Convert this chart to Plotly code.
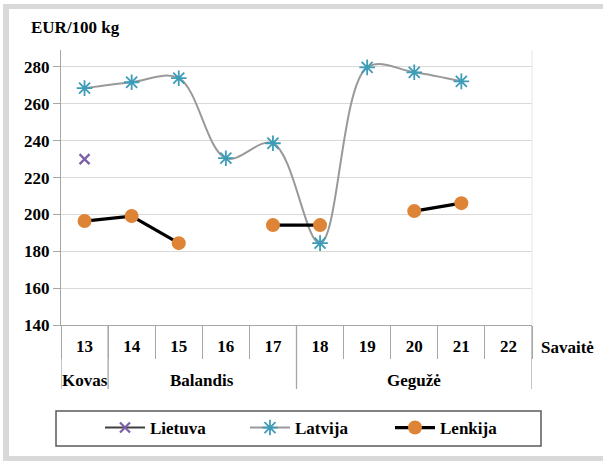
import plotly.graph_objects as go

weeks = ["13", "14", "15", "16", "17", "18", "19", "20", "21", "22"]
lietuva = [230, None, None, None, None, None, None, None, None, None]
latvija = [268.5, 271.7, 273.9, 230.5, 238.6, 184.4, 279.8, 277.1, 272.2, None]
lenkija = [196.4, 199.1, 184.4, None, 194.2, 194.2, None, 201.8, 206.1, None]
months = ["Kovas", "Balandis", "Gegužė"]
month_weeks = [1, 4, 5]
y_ticks = [140, 160, 180, 200, 220, 240, 260, 280]

FONT = "Liberation Serif, Times New Roman, serif"
W, H = 603, 461
L, R, T, B = 61, 71, 50, 136
PW, PH = W - L - R, H - T - B


def px_x(x):
    return (x - L) / PW


def px_y(y):
    return (H - B - y) / PH


def bold(s):
    return "<b>" + str(s) + "</b>"


fig = go.Figure()

fig.add_trace(go.Scatter(
    x=weeks, y=lietuva, name=bold("Lietuva"), mode="lines+markers",
    line=dict(color="#404040", width=2),
    marker=dict(symbol="x-thin-open", size=10, color="#7b5ea7",
                line=dict(color="#7b5ea7", width=2.2)),
))
fig.add_trace(go.Scatter(
    x=weeks, y=latvija, name=bold("Latvija"), mode="lines+markers",
    line=dict(color="#999999", width=2, shape="spline", smoothing=1),
    marker=dict(symbol="asterisk-open", size=13, color="#3d9cb8",
                line=dict(color="#3d9cb8", width=1.8)),
))
fig.add_trace(go.Scatter(
    x=weeks, y=lenkija, name=bold("Lenkija"), mode="lines+markers",
    line=dict(color="black", width=3.2),
    marker=dict(symbol="circle", size=14, color="#de8436"),
))

shapes = []
# frame bands
for x0, x1, y0, y1 in [(3, 9, 4, 461), (3, 603, 4, 9), (3, 603, 456, 461)]:
    shapes.append(dict(type="rect", xref="paper", yref="paper", layer="below",
                       x0=px_x(x0), x1=px_x(x1), y0=px_y(y1), y1=px_y(y0),
                       fillcolor="#d9d9d9", line_width=0))
# month group separators
b = -0.5
bounds = [b]
for n in month_weeks:
    b += n
    bounds.append(b)
for xb in bounds:
    shapes.append(dict(type="line", xref="x", yref="paper",
                       x0=xb, x1=xb, y0=0, y1=px_y(389),
                       line=dict(color="#a6a6a6", width=1.3)))
# right plot border
shapes.append(dict(type="line", xref="paper", yref="paper",
                   x0=1, x1=1, y0=0, y1=1,
                   line=dict(color="#e6e6e6", width=1)))
# legend box
shapes.append(dict(type="rect", xref="paper", yref="paper",
                   x0=px_x(56), x1=px_x(541), y0=px_y(446), y1=px_y(411),
                   line=dict(color="#595959", width=1.5)))

annotations = []
start = -0.5
for m, n in zip(months, month_weeks):
    annotations.append(dict(x=start + n / 2, y=px_y(380), xref="x", yref="paper",
                            xanchor="center", yanchor="middle",
                            text=bold(m), showarrow=False,
                            font=dict(family=FONT, size=17, color="black")))
    start += n
annotations.append(dict(x=px_x(29), y=px_y(28), xref="paper", yref="paper",
                        xanchor="left", yanchor="middle",
                        text=bold("EUR/100 kg"), showarrow=False,
                        font=dict(family=FONT, size=17, color="black")))
annotations.append(dict(x=px_x(539), y=px_y(347), xref="paper", yref="paper",
                        xanchor="left", yanchor="middle",
                        text=bold("Savaitė"), showarrow=False,
                        font=dict(family=FONT, size=17, color="black")))

fig.update_layout(
    width=W, height=H,
    margin=dict(l=L, r=R, t=T, b=B),
    paper_bgcolor="white", plot_bgcolor="white",
    font=dict(family=FONT, size=17, color="black"),
    shapes=shapes, annotations=annotations,
    legend=dict(orientation="h", x=px_x(100), y=px_y(428),
                xanchor="left", yanchor="middle",
                itemwidth=40, entrywidth=90,
                font=dict(family=FONT, size=17, color="black"),
                bgcolor="rgba(0,0,0,0)"),
    xaxis=dict(type="category", categoryorder="array", categoryarray=weeks,
               range=[-0.5, 9.5], tickson="boundaries", ticks="outside",
               ticklen=33, tickcolor="#a6a6a6", tickwidth=1.3,
               tickvals=weeks, ticktext=[bold(w) for w in weeks],
               showline=True, linecolor="#a6a6a6", linewidth=1.3,
               showgrid=False, ticklabelstandoff=5,
               tickfont=dict(family=FONT, size=17)),
    yaxis=dict(range=[140, 289.2], tickvals=y_ticks,
               ticktext=[bold(v) for v in y_ticks],
               ticks="outside", ticklen=7, tickcolor="#a6a6a6", tickwidth=1.3,
               showline=True, linecolor="#a6a6a6", linewidth=1.3,
               gridcolor="#d9d9d9", gridwidth=1, zeroline=False,
               tickfont=dict(family=FONT, size=17)),
)

fig.write_html("out.html", config={"displayModeBar": False},
               post_script="document.body.style.margin='0';")
